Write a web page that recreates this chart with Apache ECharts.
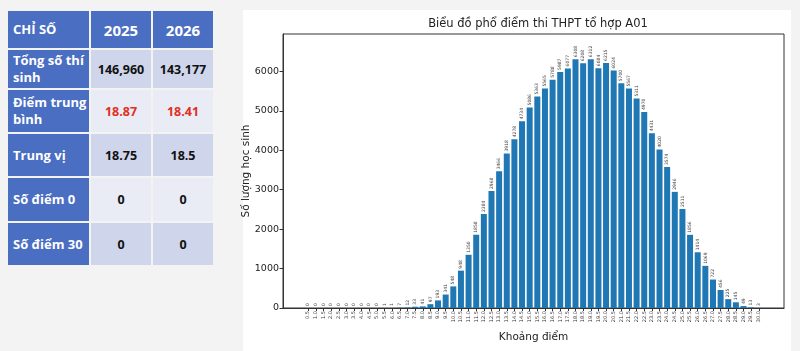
<!DOCTYPE html>
<html>
<head>
<meta charset="utf-8">
<script src="https://cdn.jsdelivr.net/npm/echarts@6/dist/echarts.min.js"></script>
<style>
  html, body { margin:0; padding:0; background:#f3f3f3; }
  #wrap { position:relative; width:800px; height:351px; overflow:hidden; }
  #panel { position:absolute; left:243px; top:10px; width:548px; height:345px; background:#fff; }
  #main { position:absolute; left:0; top:0; width:800px; height:351px; }
  table.stat { position:absolute; left:6px; top:9px; border-collapse:separate; border-spacing:2px;
    font-family:"Open Sans","Noto Sans",sans-serif; font-weight:700; }
  table.stat td { padding:0; }
  table.stat td.h { background:#4a6ec2; color:#fff; font-size:13px; text-align:left; padding-left:5px; line-height:17px; }
  table.stat td.hy { background:#4a6ec2; color:#fff; font-size:15px; text-align:center; }
  table.stat td.v { text-align:center; font-size:12.5px; color:#111; }
  table.stat tr.d td.v { background:#cfd5ea; }
  table.stat tr.l td.v { background:#e9ebf5; }
  .red { color:#e0301e !important; }
</style>
</head>
<body>
<div id="wrap">
  <div id="panel"></div>
  <table class="stat">
    <tr style="height:37px"><td class="h" style="width:76px">CHỈ SỐ</td><td class="hy" style="width:60px">2025</td><td class="hy" style="width:60px">2026</td></tr>
    <tr class="d" style="height:38px"><td class="h">Tổng số thí sinh</td><td class="v">146,960</td><td class="v">143,177</td></tr>
    <tr class="l" style="height:42px"><td class="h">Điểm trung bình</td><td class="v red">18.87</td><td class="v red">18.41</td></tr>
    <tr class="d" style="height:42px"><td class="h">Trung vị</td><td class="v">18.75</td><td class="v">18.5</td></tr>
    <tr class="l" style="height:43px"><td class="h">Số điểm 0</td><td class="v">0</td><td class="v">0</td></tr>
    <tr class="d" style="height:42px"><td class="h">Số điểm 30</td><td class="v">0</td><td class="v">0</td></tr>
  </table>
  <div id="main"></div>
</div>
<script>
// khoảng điểm 0.5 -> 30.0
var diem = [0.5,1.0,1.5,2.0,2.5,3.0,3.5,4.0,4.5,5.0,
            5.5,6.0,6.5,7.0,7.5,8.0,8.5,9.0,9.5,10.0,
            10.5,11.0,11.5,12.0,12.5,13.0,13.5,14.0,14.5,15.0,
            15.5,16.0,16.5,17.0,17.5,18.0,18.5,19.0,19.5,20.0,
            20.5,21.0,21.5,22.0,22.5,23.0,23.5,24.0,24.5,25.0,
            25.5,26.0,26.5,27.0,27.5,28.0,28.5,29.0,29.5,30.0];
// số lượng học sinh
var soLuong = [0,0,0,0,0,0,0,0,0,0,
               1,1,7,12,33,41,97,193,341,548,
               948,1350,1858,2384,2968,3466,3918,4278,4734,5086,
               5363,5565,5788,5987,6077,6308,6208,6312,6084,6215,
               6024,5700,5567,5311,4970,4431,4020,3574,2946,2511,
               1856,1414,1069,722,456,225,145,49,13,3];
var yTicks = [0,1000,2000,3000,4000,5000,6000];

var seriesData = [];
for (var i = 0; i < diem.length; i++) {
  seriesData.push([diem[i], soLuong[i]]);
}

var myChart = echarts.init(document.getElementById('main'));
var option = {
  animation: false,
  textStyle: { fontFamily: 'DejaVu Sans' },
  title: {
    text: 'Biểu đồ phổ điểm thi THPT tổ hợp A01',
    left: 533, top: 13, textAlign: 'center',
    textStyle: { fontSize: 11.5, fontWeight: 'normal', color: '#222', fontFamily: 'DejaVu Sans' }
  },
  grid: {
    left: 283, top: 34, right: 16, bottom: 43,
    show: true, borderColor: '#333', borderWidth: 1, backgroundColor: 'transparent'
  },
  xAxis: {
    type: 'value',
    min: -1.15, max: 31.65,
    name: 'Khoảng điểm', nameLocation: 'middle', nameGap: 24, nameMoveOverlap: false,
    nameTextStyle: { fontSize: 10.5, color: '#222' },
    splitLine: { show: false },
    axisLine: { show: true, onZero: false, lineStyle: { color: '#333' } },
    axisTick: { show: true, length: 3, customValues: diem, lineStyle: { color: '#333' } },
    axisLabel: {
      customValues: diem, rotate: 90, fontSize: 5, color: '#333', margin: 3,
      formatter: function (v) { return v.toFixed(1); }
    }
  },
  yAxis: {
    type: 'value',
    min: 0, max: 6950,
    name: 'Số lượng học sinh', nameLocation: 'middle', nameGap: 31, nameMoveOverlap: false,
    nameTextStyle: { fontSize: 10.5, color: '#222' },
    splitLine: { show: false },
    axisLine: { show: true, onZero: false, lineStyle: { color: '#333' } },
    axisTick: { show: true, length: 3.5, customValues: yTicks, lineStyle: { color: '#333' } },
    axisLabel: {
      customValues: yTicks, fontSize: 9.5, color: '#222', margin: 4,
      formatter: function (v) { return String(v); }
    }
  },
  series: [{
    type: 'bar',
    data: seriesData,
    barWidth: 6,
    itemStyle: { color: '#1f77b4' },
    label: {
      show: true, position: 'top', rotate: 90, align: 'left', verticalAlign: 'middle',
      distance: 2, fontSize: 4.5, color: '#444',
      formatter: function (p) { return p.value[1]; }
    }
  }]
};
myChart.setOption(option);
</script>
</body>
</html>
